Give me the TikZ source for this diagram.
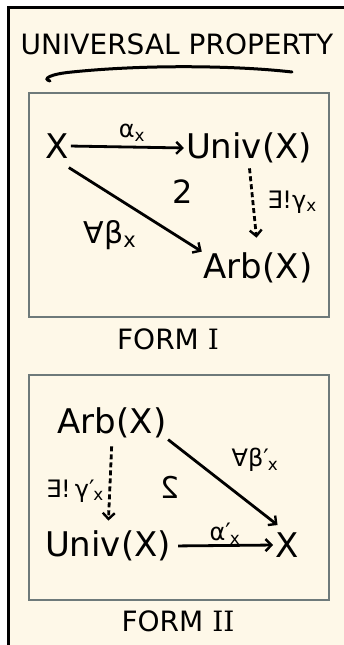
\documentclass[tikz,border=0pt]{standalone}
\usepackage{fontspec}
\setmainfont{DejaVu Sans}
\newfontfamily\romfont{DejaVu Serif}
\usetikzlibrary{arrows.meta}
\definecolor{cream}{HTML}{FEF8E8}
\definecolor{boxgray}{HTML}{6E7A7A}
\newcommand\sbx{\textsubscript{x}}
\newcommand\pmx{′\kern-1pt\textsubscript{x}}
\begin{document}
\begin{tikzpicture}[x=1pt,y=-1pt,
  obj/.style={inner sep=0pt, font=\fontsize{34}{36}\selectfont},
  ttl/.style={inner sep=0pt, font=\fontsize{28}{30}\selectfont},
  frm/.style={inner sep=0pt, font=\fontsize{28}{30}\selectfont},
  mlbl/.style={inner sep=0pt, font=\fontsize{24}{26}\selectfont},
  comm/.style={inner sep=0pt, font=\fontsize{32}{34}\selectfont},
  arr/.style={line width=2.8pt, -{Straight Barb[length=6pt,width=12pt,line width=2.4pt]}},
  darr/.style={arr, dash pattern=on 5pt off 3pt},
  panel/.style={draw=boxgray, line width=2pt, fill=cream}
]
\useasboundingbox (0,0) rectangle (344,645);
\fill[white] (0,0) rectangle (344,645);
\fill[cream] (8,7) rectangle (344,645);
\draw[line width=3pt] (8.5,645) -- (8.5,7.5) -- (344,7.5);

% title
\node[ttl] (title) at (177,44) {UNIVERSAL PROPERTY};
\draw[line width=3pt, line cap=round] (50,81) .. controls (42,79) and (50,74) .. (72,72)
  .. controls (150,64) and (240,66) .. (292,72);

% Form I
\draw[panel] (29,93) rectangle (329,317);
\node[obj] (X1) at (57,146) {X};
\node[obj] (U1) at (249,148) {Univ(X)};
\node[obj] (A1) at (258,268) {Arb(X)};
\draw[arr, shorten <=2pt, shorten >=2pt] (X1.east) -- (U1.west);
\draw[arr, shorten >=2pt] ([yshift=-9pt]X1.south east) -- (A1.north west);
\draw[darr, shorten <=5pt, shorten >=15pt] (U1.south) -- (A1.north);
\node[mlbl] (a1) at (132,133) {α\sbx};
\node[mlbl, font=\fontsize{30}{32}\selectfont] (b1) at (110,235) {∀β\sbx};
\node[mlbl] (g1) at (292,202) {∃!γ\sbx};
\node[comm] (c1) at (183,192) {2};
\node[frm] (f1) at (168,339) {FORM {\romfont I}};

% Form II
\draw[panel] (29,375) rectangle (329,600);
\node[obj] (A2) at (112,423) {Arb(X)};
\node[obj] (U2) at (108,546) {Univ(X)};
\node[obj] (X2) at (287,545) {X};
\draw[darr, shorten <=8pt, shorten >=10pt] (A2.south) -- (U2.north);
\draw[arr, shorten <=7pt, shorten >=2pt] (U2.east) -- (X2.west);
\draw[arr, shorten <=2pt, shorten >=12pt] (A2.south east) -- (X2.north);
\node[mlbl] (a2) at (225,534) {α\pmx};
\node[mlbl] (b2) at (255,460) {∀β\pmx};
\node[mlbl] (g2) at (75,491) {∃!\,γ\pmx};
\node[comm, font=\fontsize{30}{32}\selectfont] (c2) at (170,487) {\scalebox{-1}[1]{2}};
\node[frm] (f2) at (178,621) {FORM {\romfont II}};
\end{tikzpicture}
\end{document}
